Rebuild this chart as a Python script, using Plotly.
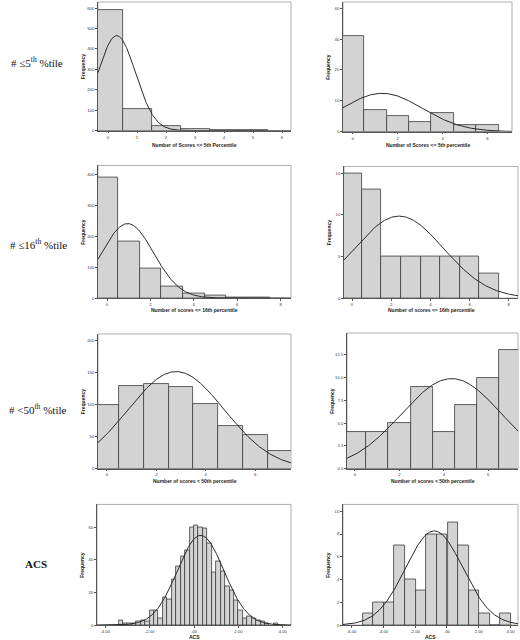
import numpy as np
import plotly.graph_objects as go

W, H = 520, 640

# ---------------- data ----------------
# Row 1: number of scores <= 5th percentile
r1_left_bins = [0, 1, 2, 3, 4, 5]
r1_left_counts = [590, 105, 21, 8, 4, 1]
r1_right_bins = [0, 1, 2, 3, 4, 5, 6]
r1_right_counts = [31, 7, 5, 3, 6, 2, 2]

# Row 2: number of scores <= 16th percentile
r2_left_bins = [0, 1, 2, 3, 4, 5, 6, 7]
r2_left_counts = [390, 184, 97, 39, 16, 9, 3, 1]
r2_right_bins = [0, 1, 2, 3, 4, 5, 6, 7]
r2_right_counts = [15, 13, 5, 5, 5, 5, 5, 3]

# Row 3: number of scores < 50th percentile
r3_left_bins = [0, 1, 2, 3, 4, 5, 6, 7]
r3_left_counts = [100, 130, 133, 128, 101, 67, 53, 27]
r3_right_bins = [0, 1, 2, 3, 4, 5, 6, 7]
r3_right_counts = [4, 4, 5, 9, 4, 7, 10, 13]

# Row 4: ACS (bin centres)
r4_left_bins = [-3.3, -3.1, -2.9, -2.7, -2.5, -2.3, -2.1, -1.9, -1.7, -1.5, -1.3, -1.1,
                -0.9, -0.7, -0.5, -0.3, -0.1, 0.1, 0.3, 0.5, 0.7, 0.9, 1.1, 1.3, 1.5,
                1.7, 1.9, 2.1, 2.3, 2.5, 2.7, 2.9, 3.1, 3.3, 3.7]
r4_left_counts = [3, 1, 1, 1, 2, 3, 2, 9, 9, 4, 17, 16,
                  28, 36, 42, 46, 60, 61, 60, 59, 50, 32, 39, 33, 24,
                  21, 15, 9, 4, 5, 4, 3, 2, 1, 1]
r4_right_bins = [-4.97, -4.30, -3.63, -2.97, -2.30, -1.63, -0.97, -0.30, 0.37, 1.03,
                 1.70, 2.37, 3.03, 3.70]
r4_right_counts = [1, 2, 2, 7, 4, 3, 8, 8, 9, 7, 3, 1, 0, 1]

bin_widths = [1, 1, 1, 1, 1, 1, 0.2, 2 / 3]

# fitted normal curves: mean, sd, N
curve_mean = [0.3, 1.3, 0.95, 2.4, 2.8, 4.35, 0.3, -0.8]
curve_sd = [0.65, 1.8, 1.2, 2.27, 1.95, 2.26, 1.05, 1.8]
curve_n = [758, 56, 725, 56, 743, 56, 724, 56]

x_titles = ["Number of Scores <= 5th Percentile", "Number of Scores <= 5th percentile",
            "Number of scores <= 16th percentile", "Number of scores <= 16th percentile",
            "Number of scores < 50th percentile", "Number of scores < 50th percentile",
            "ACS", "ACS"]
row_labels = ["# \u22645<sup>th</sup> %tile", "# \u226416<sup>th</sup> %tile",
              "# <50<sup>th</sup> %tile", "<b>ACS</b>"]

x_tickvals = [[0, 1, 2, 3, 4, 5, 6], [0, 2, 4, 6], [0, 2, 4, 6, 8], [0, 2, 4, 6, 8],
              [0, 2, 4, 6], [0, 2, 4, 6], [-4, -2, 0, 2, 4], [-6, -4, -2, 0, 2, 4]]
x_ticktext = [None, None, None, None, None, None,
              ["-4.00", "-2.00", ".00", "2.00", "4.00"],
              ["-6.00", "-4.00", "-2.00", ".00", "2.00", "4.00"]]
y_tickvals = [[0, 100, 200, 300, 400, 500, 600], [0, 10, 20, 30, 40],
              [0, 100, 200, 300, 400], [0, 5, 10, 15],
              [0, 50, 100, 150, 200], [0, 2.5, 5, 7.5, 10, 12.5],
              [0, 20, 40, 60], [0, 2, 4, 6, 8, 10]]
y_ticktext = [None, None, None, None, None,
              ["0.0", "2.5", "5.0", "7.5", "10.0", "12.5"], None, None]

bins = [r1_left_bins, r1_right_bins, r2_left_bins, r2_right_bins,
        r3_left_bins, r3_right_bins, r4_left_bins, r4_right_bins]
counts = [r1_left_counts, r1_right_counts, r2_left_counts, r2_right_counts,
          r3_left_counts, r3_right_counts, r4_left_counts, r4_right_counts]

# ---------------- layout (pixel boxes of plot areas) ----------------
boxes = [(98, 291, 2, 131), (343, 512, 2, 132),
         (98, 291, 166, 299), (344, 518, 167, 299),
         (98, 291, 335, 470), (347, 518, 334, 470),
         (97, 291, 506, 627), (343, 518, 506, 627)]
x_ranges = [[-0.345, 6.31], [-0.446, 7.1], [-0.415, 8.48], [-0.41, 8.47],
            [-0.364, 7.45], [-0.36, 7.34], [-4.37, 4.37], [-6.54, 4.47]]
y_ranges = [[0, 630], [0, 42], [0, 429], [0, 15.8], [0, 211], [0, 14.9], [0, 74], [0, 10.6]]
title_y = [145, 145, 311, 311, 483, 483, 638.5, 638.5]
row_label_pos = [(37, 62), (38, 245), (38, 410), (36, 566)]

tick_font = dict(family="Liberation Sans", size=4.2, color="#333")
title_font = dict(family="Liberation Sans", size=5, color="#222")

fig = go.Figure()
layout = dict(width=W, height=H, margin=dict(l=0, r=0, t=0, b=0),
              paper_bgcolor="white", plot_bgcolor="white", showlegend=False,
              shapes=[], annotations=[], bargap=0)

for i in range(8):
    sfx = "" if i == 0 else str(i + 1)
    xa, ya = "x" + sfx, "y" + sfx
    x0, x1, y0, y1 = boxes[i]
    fig.add_trace(go.Bar(x=bins[i], y=counts[i], width=bin_widths[i], xaxis=xa, yaxis=ya,
                         marker=dict(color="#d3d3d3", line=dict(color="#3c3c3c", width=0.8))))
    xs = np.linspace(x_ranges[i][0], x_ranges[i][1], 300)
    ys = (curve_n[i] * bin_widths[i] / (curve_sd[i] * np.sqrt(2 * np.pi))
          * np.exp(-0.5 * ((xs - curve_mean[i]) / curve_sd[i]) ** 2))
    fig.add_trace(go.Scatter(x=xs, y=ys, mode="lines", xaxis=xa, yaxis=ya,
                             line=dict(color="#2a2a2a", width=1), hoverinfo="skip"))
    xd = dict(domain=[x0 / W, x1 / W], range=x_ranges[i], anchor=ya,
              showgrid=False, zeroline=False, showline=True, linecolor="#555", linewidth=0.8,
              ticks="outside", ticklen=2, tickwidth=0.6, tickcolor="#555",
              tickvals=x_tickvals[i], tickfont=tick_font)
    if x_ticktext[i]:
        xd["ticktext"] = x_ticktext[i]
    yd = dict(domain=[1 - y1 / H, 1 - y0 / H], range=y_ranges[i], anchor=xa,
              showgrid=False, zeroline=False, showline=True, linecolor="#555", linewidth=0.8,
              ticks="outside", ticklen=2, tickwidth=0.6, tickcolor="#555",
              tickvals=y_tickvals[i], tickfont=tick_font)
    if y_ticktext[i]:
        yd["ticktext"] = y_ticktext[i]
    layout["xaxis" + sfx] = xd
    layout["yaxis" + sfx] = yd
    # frame (top/right border)
    layout["shapes"].append(dict(type="rect", xref="paper", yref="paper",
                                 x0=x0 / W, x1=x1 / W, y0=1 - y1 / H, y1=1 - y0 / H,
                                 line=dict(color="#9a9a9a", width=0.8), layer="below"))
    # x title
    layout["annotations"].append(dict(text="<b>%s</b>" % x_titles[i], xref="paper", yref="paper",
                                      x=(x0 + x1) / 2 / W, y=1 - title_y[i] / H,
                                      showarrow=False, font=title_font,
                                      xanchor="center", yanchor="middle"))
    # y title
    layout["annotations"].append(dict(text="<b>Frequency</b>", xref="paper", yref="paper",
                                      x=(x0 - 15) / W, y=1 - (y0 + y1) / 2 / H, textangle=-90,
                                      showarrow=False, font=title_font,
                                      xanchor="center", yanchor="middle"))

for lab, (lx, ly) in zip(row_labels, row_label_pos):
    layout["annotations"].append(dict(text=lab, xref="paper", yref="paper",
                                      x=lx / W, y=1 - ly / H, showarrow=False,
                                      font=dict(family="Liberation Serif", size=11, color="#111"),
                                      xanchor="center", yanchor="middle"))

fig.update_layout(**layout)
fig.write_html("out.html")
